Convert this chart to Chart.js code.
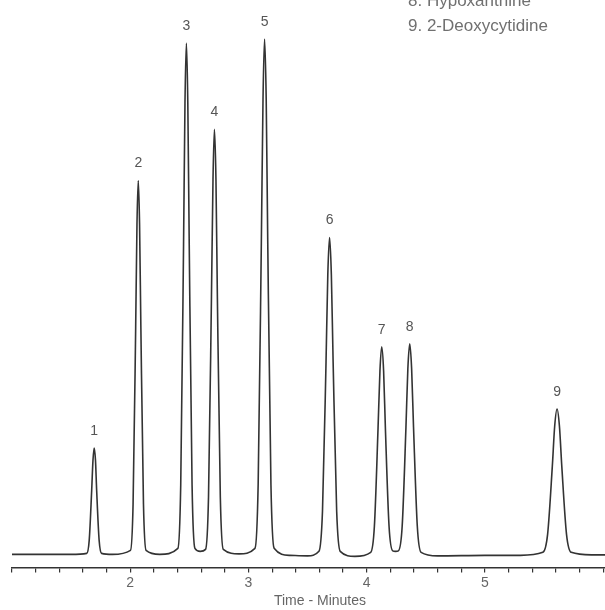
<!DOCTYPE html>
<html>
<head>
<meta charset="utf-8">
<script src="https://cdn.jsdelivr.net/npm/chart.js@4/dist/chart.umd.min.js"></script>
<style>
  html, body { margin: 0; padding: 0; background: #fff; overflow: hidden; }
  #crop { width: 605px; height: 610px; overflow: hidden; }
  #box { width: 630px; height: 610px; }
</style>
</head>
<body>
<div id="crop"><div id="box"><canvas id="chrom"></canvas></div></div>
<script>
// peaks (label, retention time in minutes, apex height above baseline)
const peakNumbers = ['1', '2', '3', '4', '5', '6', '7', '8', '9'];
const peakTimes = [1.695, 2.068, 2.475, 2.712, 3.136, 3.686, 4.127, 4.364, 5.610];
const peakHeights = [106, 373, 510, 424, 514, 316, 207, 210, 145];

// visible part of the compound list
const compoundNames = ['8. Hypoxanthine', '9. 2-Deoxycytidine'];

// labelled x ticks
const tickLabels = [2, 3, 4, 5];

// detector trace
const traceTimes = [
  1.000, 1.500,
  1.632, 1.653, 1.674, 1.685, 1.695, 1.706, 1.716, 1.737, 1.758,
  1.850,
  2.002, 2.024, 2.046, 2.057, 2.068, 2.079, 2.090, 2.112, 2.134,
  2.250,
  2.403, 2.427, 2.451, 2.463, 2.475, 2.487, 2.499, 2.523, 2.547,
  2.592,
  2.637, 2.662, 2.687, 2.700, 2.712, 2.725, 2.737, 2.762, 2.787,
  2.920,
  3.055, 3.082, 3.109, 3.123, 3.136, 3.150, 3.163, 3.190, 3.217,
  3.350, 3.500,
  3.596, 3.626, 3.656, 3.671, 3.686, 3.701, 3.716, 3.746, 3.776,
  3.900,
  4.034, 4.065, 4.096, 4.112, 4.127, 4.143, 4.158, 4.189, 4.220,
  4.244,
  4.268, 4.300, 4.332, 4.348, 4.364, 4.380, 4.396, 4.428, 4.460,
  4.600, 5.000, 5.300,
  5.490, 5.530, 5.570, 5.590, 5.610, 5.630, 5.650, 5.690, 5.730,
  5.900, 6.250
];
const traceSignal = [
  0, 0,
  1, 14, 64, 94, 106, 94, 64, 14, 1,
  0,
  4, 50, 226, 329, 373, 329, 226, 50, 4,
  0,
  6, 69, 309, 450, 510, 450, 309, 69, 6,
  3,
  5, 57, 257, 374, 424, 374, 257, 57, 5,
  0.5,
  6, 70, 312, 454, 514, 454, 312, 70, 6,
  -1, -1.5,
  3, 43, 192, 279, 316, 279, 192, 43, 3,
  -2,
  2, 28, 126, 183, 207, 183, 126, 28, 3.5,
  3,
  3.5, 28, 127, 185, 210, 185, 127, 28, 2,
  -1.5, -1, -1,
  2, 20, 88, 128, 145, 128, 88, 20, 2,
  -0.5, -0.5
];

Chart.defaults.font.family = '"Liberation Sans", Arial, sans-serif';

// peak numbers over the apexes and the compound list in the corner
const annotations = {
  id: 'annotations',
  afterDraw(chart) {
    const ctx = chart.ctx;
    const xs = chart.scales.x, ys = chart.scales.y;
    ctx.save();
    ctx.fillStyle = '#555';
    ctx.font = '14px "Liberation Sans", Arial, sans-serif';
    ctx.textAlign = 'center';
    ctx.textBaseline = 'middle';
    peakNumbers.forEach((n, i) => {
      ctx.fillText(n, xs.getPixelForValue(peakTimes[i]), ys.getPixelForValue(peakHeights[i]) - 17);
    });
    ctx.font = '17px "Liberation Sans", Arial, sans-serif';
    ctx.fillStyle = '#707070';
    ctx.textAlign = 'left';
    ctx.textBaseline = 'alphabetic';
    compoundNames.forEach((s, i) => {
      ctx.fillText(s, 408, 6 + i * 25);
    });
    ctx.restore();
  }
};

const ctx = document.getElementById('chrom').getContext('2d');
const chrom = new Chart(ctx, {
  type: 'line',
  data: {
    datasets: [{
      data: traceTimes.map((t, i) => ({ x: t, y: traceSignal[i] })),
      borderColor: '#333',
      borderWidth: 1.6,
      pointRadius: 0,
      fill: false,
      cubicInterpolationMode: 'monotone',
      clip: false
    }]
  },
  options: {
    responsive: true,
    maintainAspectRatio: false,
    animation: false,
    layout: { padding: { left: 12, top: 0, right: 0, bottom: 0 } },
    plugins: { legend: { display: false }, tooltip: { enabled: false } },
    scales: {
      x: {
        type: 'linear',
        min: 1,
        max: 6.21,
        border: { display: true, color: '#333', width: 1.5 },
        grid: { drawOnChartArea: false, drawTicks: true, tickLength: 5, color: '#333', lineWidth: 1.2 },
        ticks: {
          stepSize: 0.2,
          padding: 2,
          color: '#666',
          font: { size: 14 },
          maxRotation: 0,
          autoSkip: false,
          callback: (v) => {
            const r = Math.round(v);
            return (Math.abs(v - r) < 1e-6 && tickLabels.includes(r)) ? String(r) : '';
          }
        },
        title: {
          display: true,
          text: 'Time - Minutes',
          color: '#666',
          font: { size: 14 },
          padding: { top: 0, bottom: 0 }
        }
      },
      y: { display: false, min: -13, max: 553 }
    }
  },
  plugins: [annotations]
});
</script>
</body>
</html>
